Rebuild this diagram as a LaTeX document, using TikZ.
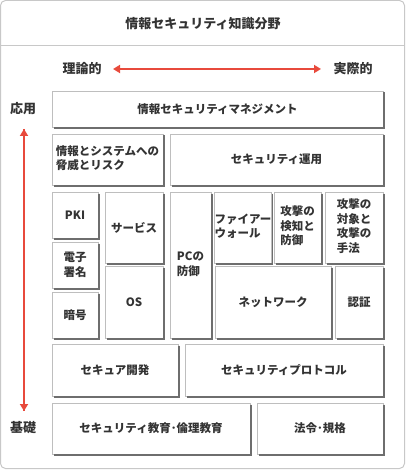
\documentclass[tikz,border=0pt]{standalone}
\usepackage{fontspec}
\setmainfont{Noto Sans CJK JP}
\usetikzlibrary{arrows.meta}
\definecolor{txt}{HTML}{333333}
\definecolor{frm}{HTML}{C8C8C8}
\definecolor{bord}{HTML}{BEBEBE}
\definecolor{shdc}{HTML}{6E6E6E}
\definecolor{redar}{HTML}{E84A3C}
\newcommand\bx[6]{%
  \pgfmathsetmacro\bw{#4-#2}\pgfmathsetmacro\bh{#5-#3}%
  \pgfmathsetmacro\bcx{(#2+#4)/2}\pgfmathsetmacro\bcy{(#3+#5)/2}%
  \node[bx, minimum width=\bw pt, minimum height=\bh pt] (#1) at (\bcx,\bcy) {#6};}
\tikzset{
  bx/.style={draw=bord, fill=white, line width=0.9pt, inner sep=0pt, outer sep=0pt,
    text=txt, font=\fontsize{11.5}{14.5}\selectfont\bfseries, align=center},
  shd/.style={draw=shdc, line width=1.3pt},
  lbl/.style={text=txt, font=\fontsize{13}{15}\selectfont\bfseries},
  rarr/.style={draw=redar, line width=2pt, {Triangle[width=8pt,length=7pt]}-{Triangle[width=8pt,length=7pt]}},
  varr/.style={draw=redar, line width=2pt, -{Triangle[width=8pt,length=7pt]}}
}
\begin{document}
\begin{tikzpicture}[x=1pt,y=-1pt]
\useasboundingbox (0,0) rectangle (405,470);
\draw[frm, line width=1pt, rounded corners=5pt] (0.5,0.5) rectangle (404.5,468.5);
\draw[frm, line width=1pt] (0.5,45.5) -- (404.5,45.5);
\node[lbl] (title) at (203,24) {情報セキュリティ知識分野};
\node[lbl] (riron) at (82,69) {理論的};
\node[lbl] (jissai) at (353,69) {実際的};
\coordinate (hl) at (113,69);
\coordinate (hr) at (321,69);
\draw[rarr] (hl) -- (hr);
\node[lbl] (ouyou) at (23,109) {応用};
\node[lbl] (kiso) at (23,428) {基礎};
\coordinate (vt) at (24,129);
\coordinate (vb) at (24,411);
\draw[varr] (vb) -- (vt);
\draw[varr] (vt) -- (vb);
\bx{mgmt}{52}{91}{383}{127}{情報セキュリティマネジメント}
\bx{threat}{52}{134}{163}{185}{\begin{tabular}{@{}l@{}}情報とシステムへの\\脅威とリスク\end{tabular}}
\bx{ops}{170}{134}{383}{185}{セキュリティ運用}
\bx{pki}{52}{192}{98}{238}{PKI}
\bx{sig}{52}{242}{98}{288}{電子\\署名}
\bx{crypto}{52}{292}{98}{338}{暗号}
\bx{svc}{105}{192}{163}{263}{サービス}
\bx{os}{105}{266}{163}{338}{OS}
\bx{pc}{170}{192}{211}{338}{\begin{tabular}{@{}l@{}}PCの\\防御\end{tabular}}
\bx{fw}{215}{192}{271}{263}{\begin{tabular}{@{}l@{}}ファイアー\\ウォール\end{tabular}}
\bx{ids}{274}{192}{321}{263}{\begin{tabular}{@{}l@{}}攻撃の\\検知と\\防御\end{tabular}}
\bx{atk}{325}{192}{383}{263}{\begin{tabular}{@{}l@{}}攻撃の\\対象と\\攻撃の\\手法\end{tabular}}
\bx{net}{215}{266}{331}{338}{ネットワーク}
\bx{auth}{335}{266}{383}{338}{認証}
\bx{dev}{52}{344}{178}{396}{セキュア開発}
\bx{proto}{185}{344}{383}{396}{セキュリティプロトコル}
\bx{edu}{52}{403}{250}{454}{セキュリティ教育･倫理教育}
\bx{law}{257}{403}{383}{454}{法令･規格}
\foreach \n in {mgmt,threat,ops,pki,sig,crypto,svc,os,pc,fw,ids,atk,net,auth,dev,proto,edu,law}
  \draw[shd] ([shift={(1,1.5)}]\n.north east) -- ([shift={(1,1)}]\n.south east) -- ([shift={(1.5,1)}]\n.south west);
\end{tikzpicture}
\end{document}
